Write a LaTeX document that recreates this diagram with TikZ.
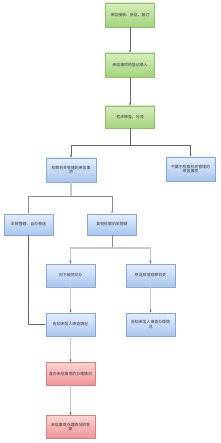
\documentclass[tikz,border=0pt]{standalone}
\usepackage{fontspec}
\setmainfont{Noto Sans CJK SC}
\usetikzlibrary{arrows.meta,shadows}
\definecolor{gtop}{HTML}{D6EDBC}
\definecolor{gbot}{HTML}{A3D47E}
\definecolor{gdraw}{HTML}{8DBE6A}
\definecolor{btop}{HTML}{E4EEFA}
\definecolor{bbot}{HTML}{A8C5EE}
\definecolor{bdraw}{HTML}{84A8D6}
\definecolor{rtop}{HTML}{FBD3D3}
\definecolor{rbot}{HTML}{EE9494}
\definecolor{rdraw}{HTML}{D88080}
\tikzset{
  box/.style={rectangle, minimum width=49pt, minimum height=23pt, inner sep=1pt,
    align=center, font=\fontsize{3.9pt}{4.6pt}\selectfont, text=black!80,
    line width=0.4pt, drop shadow={opacity=0.15, shadow xshift=0.8pt, shadow yshift=-0.8pt}},
  gbox/.style={box, top color=gtop, bottom color=gbot, draw=gdraw},
  bbox/.style={box, top color=btop, bottom color=bbot, draw=bdraw},
  rbox/.style={box, top color=rtop, bottom color=rbot, draw=rdraw},
  tip/.style={-{Latex[length=2.3pt,width=1.9pt]}},
  dk/.style={draw=black!60, line width=0.4pt},
  md/.style={draw=black!45, line width=0.55pt},
  lt/.style={draw=black!22, line width=1.4pt},
}
\begin{document}
\begin{tikzpicture}[x=1pt,y=-1pt]
\useasboundingbox (0,0) rectangle (220,443);
\node[gbox, minimum height=24pt] (b1) at (130,15) {来信接收、拆信、装订};
\node[gbox, minimum height=24pt] (b2) at (130,65) {来信事项的登记录入};
\node[gbox, minimum height=22pt] (b3) at (130,117) {初步审查、分流};
\node[bbox, minimum width=50pt, minimum height=24pt] (b4) at (71,170) {检察机关管辖的来信事\\项};
\node[bbox, minimum height=24pt] (b5) at (190.5,169) {不属于检察机关管辖的\\来信事项};
\node[bbox, minimum height=21pt] (b6) at (28.5,224.5) {本院管辖、自办移送};
\node[bbox, minimum height=21pt] (b7) at (112,224.5) {其他检察机关管辖};
\node[bbox] (b8) at (70.5,275.5) {向下级院交办};
\node[bbox] (b9) at (150.5,275.5) {移送其他检察机关};
\node[bbox] (b10) at (70.5,324.5) {告知来信人审查情况};
\node[bbox] (b11) at (150.5,324.5) {告知来信人审查办理情\\况};
\node[rbox] (b12) at (70.5,374) {督办来信事项的办理情况};
\node[rbox] (b13) at (70.5,427) {来信事项办理情况的答\\复};
% connectors
\draw[dk,tip] (b1) -- (b2);
\draw[dk,tip] (b2) -- (b3);
\coordinate (s3) at (130,145);
\draw[dk] (b3.south) -- (s3);
\draw[dk,tip] (s3) -| (b4.north);
\draw[dk,tip] (s3) -| (b5.north);
\coordinate (s4) at (71,196);
\draw[lt] (b4.south) -- (s4);
\draw[md,tip] (s4) -| (b6.north);
\draw[md,tip] (s4) -| (b7.north);
\coordinate (s7) at (112,248);
\draw[md] (b7.south) -- (s7);
\draw[lt] (s7) -| ([yshift=3pt]b8.north);
\draw[lt] (s7) -| ([yshift=3pt]b9.north);
\draw[dk,tip] ([yshift=3.5pt]b8.north) -- (b8.north);
\draw[dk,tip] ([yshift=3.5pt]b9.north) -- (b9.north);
\draw[dk,tip] (b6.south) |- (b10.west);
\draw[lt] (b8.south) -- ([yshift=3pt]b10.north);
\draw[dk,tip] ([yshift=3.5pt]b10.north) -- (b10.north);
\draw[lt] (b9.south) -- ([yshift=3pt]b11.north);
\draw[dk,tip] ([yshift=3.5pt]b11.north) -- (b11.north);
\draw[lt] (b10.south) -- ([yshift=3pt]b12.north);
\draw[dk,tip] ([yshift=3.5pt]b12.north) -- (b12.north);
\draw[lt] (b12.south) -- ([yshift=3pt]b13.north);
\draw[dk,tip] ([yshift=3.5pt]b13.north) -- (b13.north);
\end{tikzpicture}
\end{document}
